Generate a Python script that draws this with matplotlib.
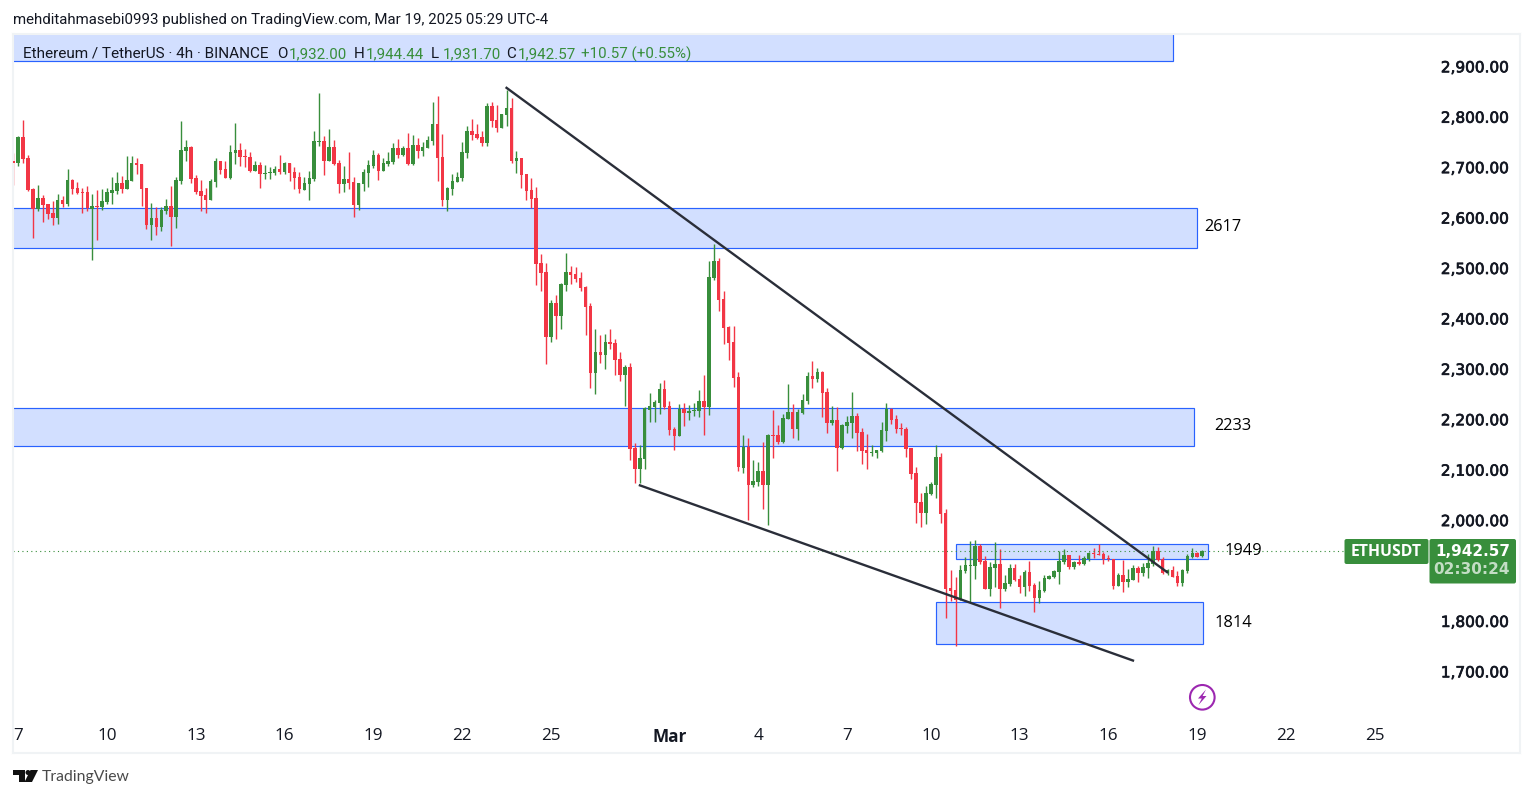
# -*- coding: utf-8 -*-
import numpy as np
import matplotlib
matplotlib.use('Agg')
import matplotlib.pyplot as plt
import matplotlib.patheffects as pe
from matplotlib.patches import Rectangle, FancyBboxPatch, Polygon, Circle
from matplotlib.transforms import IdentityTransform, ScaledTranslation

W, H = 1533, 798
GREEN = '#388e3c'
RED = '#f23645'
BLUE = '#2962ff'
FILL = '#d2dfff'
DARK = '#131722'
BORDER = '#f0f3f5'

# prices, one 4h bar each
opens = [
    2712, 2709, 2760, 2718, 2657, 2617, 2639, 2627, 2609, 2599,
    2635, 2627, 2675, 2659, 2651, 2651, 2617, 2623, 2621, 2631,
    2649, 2653, 2669, 2657, 2673, 2708, 2706, 2659, 2585, 2599,
    2581, 2613, 2623, 2601, 2673, 2732, 2740, 2679, 2653, 2645,
    2635, 2671, 2712, 2696, 2679, 2728, 2734, 2722, 2720, 2693,
    2704, 2687, 2689, 2689, 2696, 2691, 2708, 2691, 2681,
    2655, 2667, 2677, 2750, 2752, 2712, 2740, 2708, 2667, 2677, 2671, 2625,
    2667, 2689, 2702, 2724, 2693, 2706, 2710, 2738, 2724, 2738, 2706, 2744,
    2732, 2738, 2752, 2786, 2720, 2635, 2657, 2671, 2679, 2728, 2772, 2766,
    2760, 2748, 2821, 2794, 2778, 2804, 2817, 2712, 2718, 2687, 2655, 2639,
    2510, 2493, 2364, 2431, 2405, 2467, 2493, 2489, 2481, 2463, 2425, 2292,
    2334, 2328, 2354, 2352, 2320, 2288, 2304, 2143, 2102, 2122, 2219, 2225,
    2233, 2260, 2227, 2181, 2167, 2221, 2213, 2217, 2217, 2237, 2225, 2481,
    2514, 2439, 2383, 2354, 2284, 2104, 2146, 2070, 2076, 2098, 2070, 2169, 2169,
    2156, 2201, 2215, 2181, 2213, 2237, 2286, 2280, 2294, 2255, 2193, 2199,
    2144, 2187, 2193, 2207, 2175, 2140, 2134, 2134, 2138, 2177, 2221, 2201,
    2183, 2181, 2144, 2094, 2037, 2015, 2052, 2070, 2126,
    2014, 1866, 1862, 1842, 1899, 1909, 1909, 1949, 1919, 1864, 1905, 1913, 1864,
    1874, 1905, 1884, 1868, 1897, 1872, 1846, 1860, 1884, 1888, 1897, 1917, 1931,
    1907, 1917, 1913, 1923, 1935, 1933, 1933, 1925, 1923, 1870, 1892, 1878, 1882,
    1905, 1895, 1905, 1913, 1939, 1923, 1895, 1901, 1890, 1876, 1899, 1927, 1935,
    1928.4,
]
highs = [
    2729, 2762, 2794, 2724, 2659, 2665, 2645, 2628, 2633, 2647,
    2643, 2696, 2677, 2671, 2659, 2663, 2647, 2655, 2657, 2659,
    2681, 2691, 2683, 2722, 2722, 2718, 2706, 2659, 2629, 2621,
    2621, 2637, 2663, 2681, 2792, 2754, 2742, 2685, 2675, 2659,
    2677, 2718, 2712, 2712, 2744, 2788, 2748, 2736, 2730, 2712,
    2710, 2704, 2700, 2702, 2724, 2710, 2708, 2700, 2691,
    2681, 2693, 2772, 2847, 2762, 2776, 2754, 2714, 2702, 2730, 2681, 2669,
    2696, 2714, 2734, 2728, 2718, 2730, 2748, 2756, 2742, 2768, 2764, 2758,
    2750, 2762, 2829, 2841, 2766, 2661, 2687, 2691, 2750, 2782, 2796, 2786,
    2772, 2827, 2829, 2823, 2806, 2853, 2837, 2732, 2718, 2687, 2679, 2661,
    2528, 2510, 2437, 2447, 2471, 2530, 2504, 2502, 2493, 2465, 2431, 2379,
    2368, 2370, 2379, 2360, 2334, 2308, 2312, 2153, 2149, 2225, 2253, 2239,
    2272, 2278, 2237, 2185, 2231, 2233, 2229, 2233, 2258, 2288, 2514, 2548,
    2520, 2455, 2385, 2385, 2294, 2169, 2163, 2120, 2116, 2155, 2171, 2219, 2189,
    2211, 2271, 2231, 2221, 2251, 2294, 2316, 2302, 2296, 2263, 2227, 2225,
    2191, 2207, 2255, 2213, 2183, 2171, 2150, 2140, 2195, 2233, 2223, 2209,
    2193, 2185, 2144, 2106, 2054, 2068, 2076, 2150, 2134,
    2022, 1901, 1888, 1911, 1927, 1959, 1961, 1953, 1929, 1917, 1957, 1943, 1892,
    1913, 1913, 1892, 1901, 1919, 1876, 1880, 1892, 1891, 1901, 1939, 1943, 1931,
    1919, 1931, 1929, 1937, 1945, 1953, 1937, 1931, 1923, 1895, 1921, 1903, 1911,
    1909, 1915, 1933, 1949, 1947, 1927, 1903, 1909, 1899, 1903, 1933, 1945, 1937,
    1940.8,
]
lows = [
    2665, 2703, 2709, 2653, 2560, 2613, 2591, 2597, 2585, 2587,
    2621, 2623, 2647, 2647, 2609, 2613, 2516, 2556, 2615, 2627,
    2627, 2647, 2649, 2657, 2673, 2687, 2623, 2578, 2556, 2566,
    2574, 2607, 2544, 2579, 2667, 2712, 2669, 2647, 2613, 2609,
    2635, 2661, 2687, 2679, 2677, 2706, 2702, 2700, 2690, 2693,
    2659, 2677, 2677, 2685, 2687, 2687, 2673, 2657, 2649,
    2655, 2635, 2673, 2742, 2685, 2712, 2704, 2649, 2651, 2657, 2601, 2615,
    2653, 2661, 2698, 2675, 2693, 2702, 2706, 2718, 2722, 2704, 2704, 2718,
    2722, 2738, 2744, 2673, 2623, 2613, 2645, 2671, 2673, 2718, 2754, 2756,
    2742, 2742, 2780, 2770, 2778, 2782, 2708, 2689, 2659, 2635, 2619, 2467,
    2455, 2310, 2354, 2360, 2379, 2455, 2469, 2473, 2455, 2368, 2262, 2251,
    2312, 2300, 2340, 2288, 2276, 2227, 2120, 2074, 2074, 2102, 2195, 2195,
    2211, 2221, 2169, 2140, 2167, 2187, 2199, 2207, 2205, 2169, 2209, 2477,
    2415, 2350, 2318, 2264, 2098, 2094, 2001, 2066, 2068, 2023, 1991, 2124, 2151,
    2154, 2201, 2163, 2160, 2211, 2231, 2263, 2275, 2205, 2173, 2189, 2098,
    2142, 2173, 2163, 2138, 2112, 2102, 2128, 2124, 2136, 2158, 2191, 2173,
    2169, 2126, 2082, 1995, 1987, 1993, 2050, 2045, 1995,
    1806, 1840, 1751, 1842, 1895, 1838, 1884, 1913, 1864, 1850, 1868, 1826, 1860,
    1870, 1880, 1856, 1850, 1860, 1818, 1836, 1858, 1884, 1886, 1874, 1913, 1903,
    1903, 1911, 1911, 1919, 1925, 1931, 1913, 1919, 1864, 1870, 1858, 1868, 1882,
    1878, 1889, 1886, 1909, 1919, 1894, 1892, 1888, 1870, 1870, 1895, 1925, 1927,
    1928.1,
]
closes = [
    2709, 2760, 2716, 2655, 2617, 2639, 2625, 2607, 2599, 2635,
    2627, 2675, 2657, 2649, 2649, 2619, 2623, 2621, 2633, 2651,
    2655, 2669, 2657, 2675, 2708, 2704, 2657, 2585, 2599, 2581,
    2615, 2623, 2601, 2675, 2734, 2740, 2677, 2651, 2643, 2635,
    2673, 2712, 2694, 2679, 2730, 2734, 2720, 2720, 2693, 2704,
    2687, 2689, 2691, 2696, 2691, 2708, 2689, 2679, 2657,
    2669, 2679, 2752, 2752, 2712, 2740, 2706, 2667, 2677, 2669, 2625, 2669,
    2691, 2704, 2724, 2693, 2708, 2712, 2738, 2724, 2738, 2706, 2744, 2732,
    2740, 2754, 2786, 2718, 2635, 2659, 2673, 2681, 2730, 2772, 2764, 2758,
    2748, 2821, 2792, 2778, 2806, 2817, 2712, 2718, 2685, 2653, 2637, 2508,
    2491, 2364, 2431, 2405, 2469, 2493, 2487, 2479, 2461, 2423, 2292, 2334,
    2328, 2354, 2350, 2318, 2288, 2304, 2141, 2102, 2124, 2223, 2227, 2235,
    2260, 2225, 2179, 2167, 2221, 2213, 2217, 2219, 2237, 2225, 2483, 2514,
    2437, 2381, 2352, 2282, 2106, 2146, 2070, 2078, 2098, 2070, 2169, 2167, 2155,
    2203, 2215, 2181, 2215, 2239, 2286, 2280, 2294, 2253, 2193, 2199, 2144,
    2189, 2195, 2207, 2173, 2138, 2134, 2136, 2140, 2179, 2221, 2199, 2181,
    2181, 2142, 2092, 2035, 2015, 2054, 2072, 2126, 2013,
    1864, 1860, 1842, 1901, 1911, 1911, 1949, 1917, 1864, 1907, 1913, 1864, 1876,
    1905, 1882, 1868, 1897, 1870, 1846, 1862, 1886, 1890, 1899, 1919, 1931, 1907,
    1917, 1913, 1925, 1935, 1933, 1931, 1923, 1923, 1870, 1892, 1878, 1884, 1905,
    1895, 1907, 1915, 1939, 1921, 1895, 1901, 1888, 1876, 1901, 1929, 1935, 1927,
    1939,
]
# the tick labels sit about 2px above their level, so the readings run low
READ_OFFSET = 3.6

price_ticks = [1700, 1800, 1900, 2000, 2100, 2200, 2300, 2400, 2500, 2600, 2700, 2800, 2900]
price_labels = ['1,700.00', '1,800.00', '', '2,000.00', '2,100.00', '2,200.00', '2,300.00',
                '2,400.00', '2,500.00', '2,600.00', '2,700.00', '2,800.00', '2,900.00']
day_bars = [1, 19, 37, 55, 73, 91, 109, 133, 151, 169, 186, 204, 222, 240, 258, 276]
day_labels = ['7', '10', '13', '16', '19', '22', '25', 'Mar', '4', '7', '10', '13', '16', '19', '22', '25']

# zones: first bar, last bar, upper price, lower price
zone_starts = [-5, -5, -5, 191.2, 187.1]
zone_ends = [235.1, 239.9, 239.3, 242.1, 241.1]
zone_tops = [3000, 2622, 2226.6, 1956.2, 1841.2]
zone_bottoms = [2914.6, 2543.6, 2151, 1926.5, 1758]

zone_names = ['2617', '2233', '1949', '1814']
zone_name_bars = [241.5, 243.5, 245.6, 243.6]
zone_name_prices = [2582, 2186, 1940, 1796]

# trend lines
upper_line_bars = [99.8, 234.1]
upper_line_prices = [2862.6, 1899.2]
lower_line_bars = [126.8, 227.2]
lower_line_prices = [2073.6, 1724.6]

last_price = 1942.57

BAR_PX = 4.933
FIRST_BAR_PX = 13.3
AX_L, AX_R, AX_T, AX_B = 13, 1520, 34, 753
PX_PER_PRICE = 0.5042
Y_2900 = 68.3


def px(x, y):
    # picture pixels (y down) to display coordinates
    return x, H - y


fig = plt.figure(figsize=(W / 100, H / 100), dpi=100, facecolor='white')
ax = fig.add_axes([AX_L / W, (H - AX_B) / H, (AX_R - AX_L) / W, (AX_B - AX_T) / H])
ax.set_xlim((AX_L - FIRST_BAR_PX) / BAR_PX, (AX_R - FIRST_BAR_PX) / BAR_PX)
ax.set_ylim(2900 - (AX_B - Y_2900) / PX_PER_PRICE, 2900 + (Y_2900 - AX_T) / PX_PER_PRICE)

for spine in ax.spines.values():
    spine.set_color(BORDER)
    spine.set_linewidth(1.5)

for x0, x1, top, bottom in zip(zone_starts, zone_ends, zone_tops, zone_bottoms):
    ax.add_patch(Rectangle((x0, bottom), x1 - x0, top - bottom, facecolor=FILL,
                           edgecolor=BLUE, linewidth=0.85, zorder=1))

o = np.array(opens) + READ_OFFSET
h = np.array(highs) + READ_OFFSET
l = np.array(lows) + READ_OFFSET
c = np.array(closes) + READ_OFFSET
bars = np.arange(len(o))
up = c >= o
colors = np.where(up, GREEN, RED)

ax.vlines(bars, l, h, colors=colors, linewidth=1.0, zorder=2)
ax.bar(bars, np.maximum(np.abs(c - o), 1.5), bottom=np.minimum(o, c), width=3.5 / BAR_PX,
       color=colors, linewidth=0, zorder=3)

ax.plot(upper_line_bars, upper_line_prices, color='#2a2e39', lw=1.7, zorder=4, solid_capstyle='butt')
ax.plot(lower_line_bars, lower_line_prices, color='#2a2e39', lw=1.7, zorder=4, solid_capstyle='butt')

ax.axhline(last_price, xmax=(1344 - AX_L) / (AX_R - AX_L), color=GREEN, lw=0.8,
           ls=(0, (1, 3)), zorder=2)

for name, b, p in zip(zone_names, zone_name_bars, zone_name_prices):
    ax.text(b, p + READ_OFFSET, name, color='black', fontsize=11.8, family='Open Sans',
            ha='left', va='center', zorder=6)

ax.set_xticks(day_bars)
ax.set_xticklabels(day_labels)
ax.yaxis.tick_right()
ax.set_yticks(price_ticks)
ax.set_yticklabels(price_labels)
ax.tick_params(axis='x', length=0, pad=-18, labelsize=12.3, labelcolor=DARK)
ax.tick_params(axis='y', length=0, pad=-57, labelsize=11, labelcolor=DARK)
for lab in ax.get_xticklabels():
    lab.set_family('Open Sans')
    if lab.get_text() == 'Mar':
        lab.set_fontweight('bold')
up_shift = ScaledTranslation(0, 2 / 72 * 0.72, fig.dpi_scale_trans)
for lab in ax.get_yticklabels():
    lab.set_family('DejaVu Sans')
    lab.set_path_effects([pe.withStroke(linewidth=0.5, foreground=DARK)])
    lab.set_transform(lab.get_transform() + up_shift)

# last price badges
disp = IdentityTransform()
x, y = px(1344.5, 564)
fig.add_artist(FancyBboxPatch((x, y), 84, 25, boxstyle='round,pad=0,rounding_size=2',
                              facecolor=GREEN, edgecolor='none', transform=disp))
x, y = px(1429.5, 583.5)
fig.add_artist(FancyBboxPatch((x, y), 86.5, 44.5, boxstyle='round,pad=0,rounding_size=2',
                              facecolor=GREEN, edgecolor='none', transform=disp))


def ftext(x, y, s, **kw):
    kw.setdefault('va', 'center')
    kw.setdefault('ha', 'left')
    kw.setdefault('family', 'Open Sans')
    return fig.text(x / W, 1 - y / H, s, **kw)


ftext(1386, 551.5, 'ETHUSDT', color='white', fontsize=11.3, ha='center', fontweight='bold', family='Open Sans')
ftext(1510, 551, '1,942.57', color='white', fontsize=11, ha='right', family='DejaVu Sans', fontweight='bold')
ftext(1510, 570, '02:30:24', color='white', alpha=0.7, fontsize=11, ha='right', family='DejaVu Sans', fontweight='bold')

# header and legend text
ftext(13, 20, 'mehditahmasebi0993 published on TradingView.com, Mar 19, 2025 05:29 UTC-4',
      color=DARK, fontsize=10.8, family='Roboto')
ftext(23, 54, 'Ethereum / TetherUS · 4h · BINANCE', color=DARK, fontsize=11, family='Roboto')
legend_xs = [277, 289, 354, 366, 431, 443, 506, 518, 581]
legend_texts = ['O', '1,932.00', 'H', '1,944.44', 'L', '1,931.70', 'C', '1,942.57', '+10.57 (+0.55%)']
for i, (lx, lt) in enumerate(zip(legend_xs, legend_texts)):
    ftext(lx, 54, lt, color=GREEN if i % 2 or i == 8 else DARK, fontsize=10.9, family='Roboto')

# lightning mark
x, y = px(1202.3, 697.3)
fig.add_artist(Circle((x, y), 12.3, facecolor='white', edgecolor='#9c27b0', lw=1.5, transform=disp))
bolt = [(1206, 689.5), (1198, 698.5), (1201.8, 698.5), (1198.5, 705), (1206.5, 696), (1202.6, 696)]
fig.add_artist(Polygon([px(*b) for b in bolt], closed=True, facecolor='#9c27b0',
                       edgecolor='none', transform=disp))

# TradingView mark
logo_t = [(13, 770), (25, 770), (25, 782), (19, 782), (19, 775), (13, 775)]
logo_s = [(30.5, 770), (38, 770), (32, 782), (24.5, 782)]
fig.add_artist(Polygon([px(*b) for b in logo_t], closed=True, facecolor='#111111', edgecolor='none', transform=disp))
fig.add_artist(Polygon([px(*b) for b in logo_s], closed=True, facecolor='#111111', edgecolor='none', transform=disp))
x, y = px(28, 772.5)
fig.add_artist(Circle((x, y), 2.5, facecolor='#111111', edgecolor='none', transform=disp))
ftext(42, 777, 'TradingView', color='#4a4a4a', fontsize=11.3, family='Lato')

fig.savefig('out.png', dpi=100, facecolor='white')
